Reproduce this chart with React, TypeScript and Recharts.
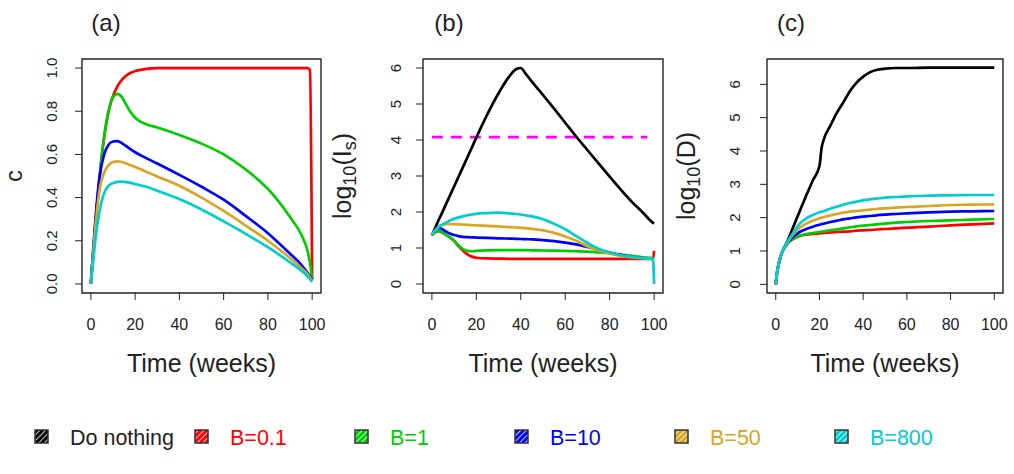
import React from "react";
import { LineChart, Line, XAxis, YAxis, ReferenceArea, ReferenceLine } from "recharts";

const FONT = '"Liberation Sans", Arial, Helvetica, sans-serif';
const INK = "#222";

// ── series ────────────────────────────────────────────────────────────────────
const seriesNames = ["Do nothing", "B=0.1", "B=1", "B=10", "B=50", "B=800"];
const seriesKeys = ["none", "b01", "b1", "b10", "b50", "b800"];
const seriesColors = ["#000000", "#FF0000", "#00CD00", "#0000FF", "#DAA520", "#00CDCD"];

const xTicks = [0, 20, 40, 60, 80, 100];

// (a) c
const timeA = [0, 1, 2, 3, 4, 6, 8, 10, 12, 14, 16, 18, 20, 25, 30, 40, 50, 60, 70, 80, 90, 95, 98, 99, 100];
const cB01 = [0, 0.14, 0.27, 0.39, 0.5, 0.68, 0.8, 0.87, 0.915, 0.945, 0.965, 0.978, 0.986, 0.996, 1.0, 1.0, 1.0, 1.0, 1.0, 1.0, 1.0, 1.0, 1.0, 0.99, 0.02];
const cB1 = [0, 0.14, 0.27, 0.39, 0.5, 0.68, 0.8, 0.865, 0.88, 0.865, 0.83, 0.795, 0.77, 0.74, 0.725, 0.69, 0.65, 0.6, 0.53, 0.44, 0.31, 0.23, 0.15, 0.1, 0.02];
const cB10 = [0, 0.15, 0.29, 0.41, 0.5, 0.6, 0.645, 0.66, 0.662, 0.652, 0.638, 0.623, 0.61, 0.583, 0.558, 0.505, 0.45, 0.39, 0.315, 0.235, 0.14, 0.09, 0.05, 0.035, 0.02];
const cB50 = [0, 0.13, 0.26, 0.36, 0.44, 0.515, 0.55, 0.565, 0.568, 0.565, 0.558, 0.55, 0.542, 0.52, 0.498, 0.455, 0.4, 0.338, 0.27, 0.2, 0.12, 0.075, 0.045, 0.03, 0.015];
const cB800 = [0, 0.1, 0.2, 0.28, 0.34, 0.42, 0.455, 0.467, 0.473, 0.474, 0.472, 0.468, 0.463, 0.45, 0.432, 0.393, 0.345, 0.29, 0.232, 0.17, 0.1, 0.062, 0.035, 0.022, 0.01];

// (b) log10(Is)
const timeB = [0, 1, 2, 3, 4, 6, 8, 10, 12, 14, 16, 18, 20, 25, 30, 35, 38, 40, 42, 45, 50, 55, 60, 65, 70, 75, 80, 85, 90, 95, 99.5, 100];
const isNone = [1.35, 1.49, 1.63, 1.77, 1.9, 2.17, 2.44, 2.71, 2.98, 3.25, 3.52, 3.79, 4.07, 4.72, 5.3, 5.78, 5.97, 6.0, 5.86, 5.62, 5.25, 4.87, 4.48, 4.09, 3.72, 3.35, 2.98, 2.62, 2.28, 1.98, 1.7, 1.68];
const isB01 = [1.35, 1.42, 1.46, 1.47, 1.45, 1.38, 1.3, 1.2, 1.05, 0.92, 0.82, 0.76, 0.73, 0.71, 0.705, 0.7, 0.7, 0.7, 0.7, 0.7, 0.7, 0.7, 0.7, 0.7, 0.7, 0.7, 0.7, 0.7, 0.7, 0.7, 0.7, 0.92];
const isB1 = [1.35, 1.42, 1.46, 1.47, 1.45, 1.38, 1.3, 1.2, 1.07, 0.97, 0.92, 0.91, 0.92, 0.935, 0.94, 0.94, 0.94, 0.94, 0.94, 0.935, 0.93, 0.925, 0.92, 0.91, 0.9, 0.88, 0.86, 0.82, 0.78, 0.74, 0.71, 0.7];
const isB10 = [1.35, 1.45, 1.52, 1.55, 1.54, 1.47, 1.4, 1.36, 1.33, 1.31, 1.3, 1.295, 1.29, 1.28, 1.27, 1.26, 1.255, 1.25, 1.245, 1.24, 1.22, 1.19, 1.15, 1.1, 1.03, 0.95, 0.87, 0.8, 0.75, 0.72, 0.7, 0.7];
const isB50 = [1.35, 1.45, 1.53, 1.59, 1.63, 1.66, 1.665, 1.66, 1.655, 1.65, 1.64, 1.635, 1.63, 1.615, 1.6, 1.58, 1.57, 1.56, 1.55, 1.53, 1.49, 1.42, 1.32, 1.2, 1.05, 0.93, 0.84, 0.78, 0.74, 0.72, 0.7, 0.7];
const isB800 = [1.35, 1.45, 1.52, 1.58, 1.62, 1.69, 1.76, 1.81, 1.85, 1.88, 1.91, 1.93, 1.95, 1.97, 1.98, 1.96, 1.945, 1.93, 1.91, 1.88, 1.8, 1.67, 1.52, 1.33, 1.14, 0.98, 0.88, 0.8, 0.75, 0.72, 0.7, 0];
const thresholdLevel = 4.08;
const thresholdSpan = [0, 97];

// (c) log10(D)
const timeC = [0, 0.5, 1, 2, 3, 4, 5, 8, 11, 14, 17, 20, 21, 22, 25, 28, 31, 34, 37, 40, 43, 46, 50, 55, 60, 70, 80, 90, 100];
const dNone = [0, 0.3, 0.5, 0.78, 0.98, 1.12, 1.25, 1.72, 2.2, 2.67, 3.12, 3.55, 4.1, 4.35, 4.76, 5.15, 5.47, 5.8, 6.05, 6.23, 6.36, 6.43, 6.47, 6.49, 6.49, 6.5, 6.5, 6.5, 6.5];
const dB01 = [0, 0.3, 0.5, 0.78, 0.98, 1.1, 1.2, 1.36, 1.45, 1.49, 1.51, 1.53, 1.535, 1.54, 1.56, 1.57, 1.58, 1.59, 1.61, 1.62, 1.63, 1.645, 1.66, 1.68, 1.7, 1.73, 1.77, 1.8, 1.83];
const dB1 = [0, 0.3, 0.5, 0.78, 0.98, 1.1, 1.2, 1.37, 1.46, 1.51, 1.54, 1.57, 1.58, 1.59, 1.62, 1.65, 1.68, 1.71, 1.74, 1.76, 1.78, 1.8, 1.82, 1.85, 1.87, 1.9, 1.92, 1.94, 1.96];
const dB10 = [0, 0.3, 0.5, 0.78, 0.98, 1.1, 1.21, 1.43, 1.57, 1.66, 1.73, 1.79, 1.81, 1.82, 1.87, 1.91, 1.95, 1.98, 2.01, 2.03, 2.05, 2.07, 2.09, 2.11, 2.13, 2.16, 2.18, 2.19, 2.2];
const dB50 = [0, 0.3, 0.5, 0.78, 0.98, 1.11, 1.22, 1.5, 1.7, 1.82, 1.91, 1.98, 2.0, 2.02, 2.07, 2.11, 2.15, 2.18, 2.2, 2.22, 2.24, 2.26, 2.28, 2.3, 2.32, 2.35, 2.38, 2.39, 2.4];
const dB800 = [0, 0.3, 0.5, 0.78, 0.98, 1.12, 1.24, 1.55, 1.82, 1.98, 2.08, 2.16, 2.18, 2.2, 2.27, 2.33, 2.39, 2.44, 2.48, 2.52, 2.55, 2.57, 2.6, 2.62, 2.64, 2.66, 2.67, 2.68, 2.68];

function rows(times: number[], cols: Record<string, number[]>) {
  return times.map((t, i) => {
    const r: Record<string, number> = { t };
    Object.keys(cols).forEach((k) => (r[k] = cols[k][i]));
    return r;
  });
}

const dataA = rows(timeA, { b01: cB01, b1: cB1, b10: cB10, b50: cB50, b800: cB800 });
const dataB = rows(timeB, { none: isNone, b01: isB01, b1: isB1, b10: isB10, b50: isB50, b800: isB800 });
const dataC = rows(timeC, { none: dNone, b01: dB01, b1: dB1, b10: dB10, b50: dB50, b800: dB800 });

// ── y ticks, R style (parallel to the axis) ──────────────────────────────────
function RotTick(props: any) {
  const { x, y, payload, fmt, size } = props;
  return (
    <text x={x} y={y} transform={`rotate(-90 ${x} ${y})`} textAnchor="middle" fontSize={size} fill={INK} fontFamily={FONT}>
      {fmt(payload.value)}
    </text>
  );
}

const Y_AXIS_W = 50;
const X_AXIS_H = 60;

interface PanelProps {
  data: Record<string, number>[];
  keys: string[];
  yDomain: [number, number];
  yTicks: number[];
  yFmt: (v: number) => string;
  yGap: number;
  width: number;
  boxLeft: number;
  boxRight: number;
  children?: React.ReactNode;
}

function Panel({ data, keys, yDomain, yTicks, yFmt, yGap, width, boxLeft, boxRight, children }: PanelProps) {
  const margin = { top: 59, right: width - boxRight, bottom: 107 - X_AXIS_H, left: boxLeft - Y_AXIS_W };
  return (
    <LineChart width={width} height={400} data={data} margin={margin}>
      <XAxis type="number" dataKey="t" domain={[-4, 104]} ticks={xTicks} interval={0} allowDataOverflow
        axisLine={false} tickSize={7} tickMargin={19} height={X_AXIS_H}
        tick={{ fill: INK, fontSize: 16, fontFamily: FONT }} tickLine={{ stroke: INK }} />
      <YAxis type="number" domain={yDomain} ticks={yTicks} interval={0} allowDataOverflow
        axisLine={false} tickSize={7} tickMargin={yGap} width={Y_AXIS_W}
        tick={<RotTick fmt={yFmt} size={15} />} tickLine={{ stroke: INK }} />
      <ReferenceArea x1={-4} x2={104} y1={yDomain[0]} y2={yDomain[1]} fill="none" stroke={INK} strokeWidth={1.4} ifOverflow="visible" />
      {children}
      {keys.map((k) => {
        const i = seriesKeys.indexOf(k);
        return (
          <Line key={k} type="monotone" dataKey={k} stroke={seriesColors[i]} strokeWidth={2.7}
            dot={false} activeDot={false} isAnimationActive={false} />
        );
      })}
    </LineChart>
  );
}

const axisTitle = { fontSize: 25, fill: INK, fontFamily: FONT } as const;

export default function App() {
  return (
    <div style={{ position: "absolute", left: 0, top: 0, width: 1014, height: 474, background: "#fff", fontFamily: FONT }}>
      <div style={{ position: "absolute", left: 0, top: 0 }}>
        <Panel data={dataA} keys={["b01", "b1", "b10", "b50", "b800"]} yDomain={[-0.042, 1.042]}
          yTicks={[0, 0.2, 0.4, 0.6, 0.8, 1.0]} yFmt={(v) => v.toFixed(1)} yGap={18}
          width={340} boxLeft={82} boxRight={321} />
      </div>
      <div style={{ position: "absolute", left: 340, top: 0 }}>
        <Panel data={dataB} keys={seriesKeys} yDomain={[-0.25, 6.25]}
          yTicks={[0, 1, 2, 3, 4, 5, 6]} yFmt={(v) => String(v)} yGap={15}
          width={330} boxLeft={83} boxRight={323}>
          <ReferenceLine
            segment={[{ x: thresholdSpan[0], y: thresholdLevel }, { x: thresholdSpan[1], y: thresholdLevel }]}
            stroke="#FF00FF" strokeWidth={2.6} strokeDasharray="11 8" ifOverflow="visible" />
        </Panel>
      </div>
      <div style={{ position: "absolute", left: 670, top: 0 }}>
        <Panel data={dataC} keys={seriesKeys} yDomain={[-0.26, 6.76]}
          yTicks={[0, 1, 2, 3, 4, 5, 6]} yFmt={(v) => String(v)} yGap={20}
          width={344} boxLeft={97} boxRight={333} />
      </div>

      <svg width={1014} height={474} style={{ position: "absolute", left: 0, top: 0, pointerEvents: "none" }}>
        <defs>
          {seriesColors.map((c, i) => (
            <pattern key={i} id={`hatch${i}`} width={4} height={4} patternUnits="userSpaceOnUse" patternTransform="rotate(45)">
              <rect width={4} height={4} fill={c} />
              <line x1={0} y1={0} x2={0} y2={4} stroke="#fff" strokeWidth={1.6} />
            </pattern>
          ))}
        </defs>

        <text x={106} y={31} textAnchor="middle" {...axisTitle} fontSize={24}>(a)</text>
        <text x={449} y={31} textAnchor="middle" {...axisTitle} fontSize={24}>(b)</text>
        <text x={791} y={31} textAnchor="middle" {...axisTitle} fontSize={24}>(c)</text>

        <text x={201.5} y={372} textAnchor="middle" {...axisTitle}>Time (weeks)</text>
        <text x={543} y={372} textAnchor="middle" {...axisTitle}>Time (weeks)</text>
        <text x={885} y={372} textAnchor="middle" {...axisTitle}>Time (weeks)</text>

        <text x={22} y={176} transform="rotate(-90 22 176)" textAnchor="middle" {...axisTitle} fontSize={24}>c</text>
        <text x={351} y={176} transform="rotate(-90 351 176)" textAnchor="middle" {...axisTitle}>
          <tspan>log</tspan>
          <tspan dy={5} fontSize={18}>10</tspan>
          <tspan dy={-5}>(I</tspan>
          <tspan dy={5} fontSize={18}>s</tspan>
          <tspan dy={-5}>)</tspan>
        </text>
        <text x={695} y={176} transform="rotate(-90 695 176)" textAnchor="middle" {...axisTitle}>
          <tspan>log</tspan>
          <tspan dy={5} fontSize={18}>10</tspan>
          <tspan dy={-5}>(D)</tspan>
        </text>

        {seriesNames.map((name, i) => (
          <g key={name}>
            <rect x={35 + 160 * i} y={430} width={13} height={13} fill={`url(#hatch${i})`} stroke="#333" strokeWidth={1.5} />
            <text x={70 + 160 * i} y={445} fontSize={21.5} fontFamily={FONT} fill={i === 0 ? INK : seriesColors[i]}>{name}</text>
          </g>
        ))}
      </svg>
    </div>
  );
}
